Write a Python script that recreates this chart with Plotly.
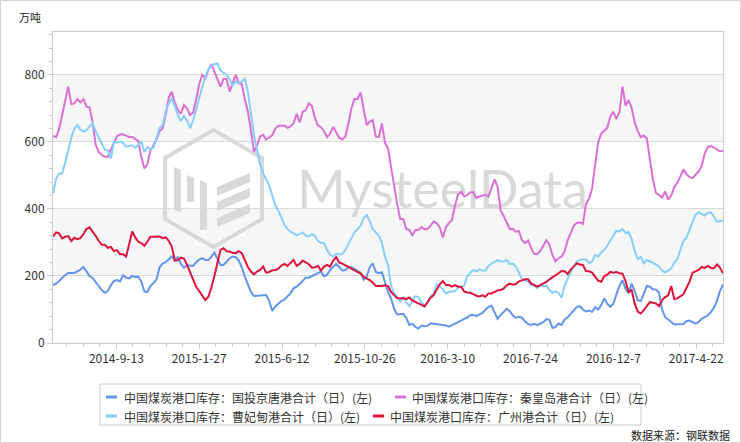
import pandas as pd
import plotly.graph_objects as go

# ---------------- data (5-day sampling) ----------------
dates = pd.date_range("2014-06-01", periods=221, freq="5D")

series_names = [
    "中国煤炭港口库存：国投京唐港合计（日）(左)",
    "中国煤炭港口库存：秦皇岛港合计（日）(左)",
    "中国煤炭港口库存：曹妃甸港合计（日）(左)",
    "中国煤炭港口库存：广州港合计（日）(左)",
]
series_colors = ["#6495ED", "#DA70D6", "#87CEFA", "#DC143C"]

jingtang = [
    173, 177, 185, 195, 203, 209, 209, 209, 214, 219, 227, 214, 200, 194, 182, 168, 158, 150, 155, 172,
    185, 188, 184, 202, 195, 193, 200, 197, 198, 183, 154, 152, 170, 179, 190, 226, 237, 241, 250, 258,
    248, 256, 236, 225, 232, 230, 230, 241, 249, 253, 248, 248, 257, 270, 250, 233, 233, 243, 253, 258,
    256, 246, 226, 198, 176, 152, 140, 141, 140, 143, 143, 125, 96, 109, 117, 125, 130, 140, 149, 163,
    168, 176, 185, 195, 195, 200, 205, 208, 213, 199, 204, 218, 227, 236, 227, 216, 218, 226, 226, 221,
    216, 210, 189, 198, 226, 238, 212, 208, 211, 180, 152, 133, 102, 85, 86, 87, 75, 54, 57, 48,
    43, 52, 50, 51, 59, 58, 55, 56, 53, 52, 49, 53, 58, 62, 67, 72, 76, 83, 84, 80,
    84, 90, 99, 108, 111, 90, 72, 84, 93, 102, 95, 82, 75, 78, 76, 64, 57, 54, 57, 53,
    58, 62, 71, 69, 45, 48, 58, 54, 70, 77, 87, 98, 108, 110, 100, 94, 97, 93, 107, 100,
    113, 133, 117, 108, 117, 145, 170, 187, 162, 149, 177, 155, 128, 125, 145, 170, 168, 160, 160, 150,
    100, 77, 70, 63, 55, 56, 56, 57, 65, 67, 62, 58, 63, 72, 77, 82, 92, 105, 125, 155,
    175]

qinhuangdao = [
    618, 614, 638, 685, 722, 765, 713, 715, 728, 718, 728, 705, 703, 660, 592, 570, 561, 556, 556, 577,
    600, 617, 622, 623, 619, 615, 615, 608, 603, 555, 521, 533, 575, 590, 608, 633, 640, 680, 732, 750,
    717, 695, 684, 710, 700, 680, 688, 725, 772, 800, 790, 814, 832, 810, 790, 765, 788, 788, 750, 778,
    800, 775, 772, 727, 690, 634, 570, 590, 616, 621, 607, 614, 620, 640, 648, 648, 649, 642, 646, 656,
    684, 658, 690, 695, 715, 708, 672, 649, 644, 632, 614, 625, 645, 628, 612, 607, 616, 655, 700, 728,
    728, 748, 700, 650, 660, 665, 616, 615, 655, 598, 580, 522, 460, 415, 370, 370, 340, 338, 320, 337,
    337, 346, 339, 341, 350, 363, 357, 345, 315, 345, 358, 367, 410, 443, 451, 438, 441, 450, 450, 433,
    437, 440, 442, 437, 460, 488, 465, 395, 378, 359, 340, 341, 332, 334, 307, 298, 306, 283, 266, 265,
    275, 290, 307, 293, 262, 244, 253, 258, 274, 307, 330, 350, 358, 360, 355, 415, 430, 460, 530, 598,
    625, 635, 642, 676, 690, 668, 690, 765, 708, 725, 702, 658, 632, 614, 619, 610, 550, 487, 447, 442,
    434, 452, 428, 440, 465, 478, 497, 518, 504, 495, 492, 503, 512, 528, 566, 585, 588, 583, 578, 572,
    573]

caofeidian = [
    445, 490, 506, 506, 538, 576, 612, 640, 650, 637, 631, 636, 645, 656, 632, 613, 595, 577, 575, 550,
    600, 598, 601, 597, 586, 587, 590, 582, 591, 600, 570, 585, 578, 583, 612, 642, 650, 690, 715, 730,
    707, 680, 662, 679, 664, 641, 664, 697, 732, 770, 796, 815, 827, 832, 834, 813, 805, 800, 787, 768,
    780, 775, 780, 788, 750, 676, 620, 575, 533, 506, 490, 470, 440, 410, 395, 373, 353, 340, 332, 327,
    322, 325, 330, 320, 318, 325, 320, 304, 299, 298, 277, 263, 258, 266, 264, 266, 277, 295, 315, 330,
    340, 350, 372, 382, 364, 340, 330, 320, 300, 258, 232, 172, 147, 138, 123, 136, 122, 110, 125, 140,
    137, 120, 111, 122, 139, 148, 176, 170, 160, 148, 152, 153, 155, 165, 167, 170, 199, 208, 218, 214,
    220, 216, 216, 230, 238, 242, 247, 243, 243, 248, 236, 237, 228, 210, 190, 185, 184, 173, 172, 164,
    173, 169, 172, 158, 150, 154, 150, 135, 172, 192, 212, 230, 243, 248, 249, 250, 238, 243, 262, 258,
    270, 277, 290, 305, 323, 335, 333, 340, 328, 332, 310, 275, 250, 257, 238, 247, 244, 240, 235, 228,
    216, 210, 216, 222, 240, 249, 278, 304, 315, 338, 363, 383, 390, 384, 380, 388, 390, 377, 362, 364,
    365]

guangzhou = [
    317, 330, 327, 312, 317, 319, 304, 314, 310, 313, 325, 340, 345, 333, 320, 305, 293, 293, 284, 287,
    274, 277, 265, 265, 258, 295, 333, 315, 302, 298, 290, 303, 317, 317, 317, 318, 313, 315, 305, 288,
    246, 247, 255, 252, 233, 210, 188, 168, 155, 141, 128, 138, 165, 200, 236, 278, 283, 274, 273, 269,
    268, 274, 268, 247, 227, 213, 205, 213, 218, 228, 210, 212, 217, 218, 222, 231, 236, 230, 238, 248,
    230, 236, 246, 240, 235, 225, 226, 230, 216, 228, 233, 228, 246, 256, 240, 237, 232, 225, 221, 216,
    212, 207, 198, 193, 188, 180, 170, 171, 170, 172, 170, 152, 142, 134, 133, 134, 131, 136, 127, 123,
    118, 114, 109, 122, 135, 143, 158, 175, 185, 173, 173, 168, 173, 168, 168, 154, 151, 150, 146, 141,
    139, 142, 138, 148, 148, 152, 157, 158, 163, 172, 177, 174, 176, 184, 188, 190, 190, 177, 173, 168,
    173, 177, 182, 190, 196, 200, 208, 215, 214, 206, 219, 228, 238, 234, 233, 215, 214, 210, 198, 186,
    183, 199, 204, 212, 210, 212, 208, 207, 185, 152, 158, 118, 94, 88, 98, 112, 122, 120, 118, 110,
    128, 137, 142, 170, 131, 133, 138, 145, 164, 183, 210, 215, 218, 227, 224, 230, 224, 223, 234, 225,
    208]

series_values = [jingtang, qinhuangdao, caofeidian, guangzhou]

x_tick_dates = ["2014-09-13", "2015-01-27", "2015-06-12", "2015-10-26",
                "2016-03-10", "2016-07-24", "2016-12-07", "2017-04-22"]
x_tick_text = ["2014-9-13", "2015-1-27", "2015-6-12", "2015-10-26",
               "2016-3-10", "2016-7-24", "2016-12-7", "2017-4-22"]
y_tick_vals = [0, 200, 400, 600, 800]

unit_text = "万吨"
source_text = "数据来源：钢联数据"
watermark_text = "MysteelData"

# ---------------- layout helpers ----------------
W, H = 741, 443
L, R, T, B = 53, 723, 32, 343
FONT = "Segoe UI, Noto Sans CJK SC, sans-serif"
AXIS_GRAY = "#cccccc"


def px(x):
    return (x - L) / (R - L)


def py(y):
    return (B - y) / (B - T)


def poly(pts):
    return "M " + " L ".join(f"{px(a)},{py(b)}" for a, b in pts) + " Z"


fig = go.Figure()
for name, vals, col in zip(series_names, series_values, series_colors):
    fig.add_trace(go.Scatter(x=dates, y=vals, mode="lines", name=name,
                             line=dict(color=col, width=2), showlegend=False))

shapes = []
# alternating bands
for y0, y1 in [(200, 400), (600, 800)]:
    shapes.append(dict(type="rect", xref="paper", yref="y", x0=0, x1=1, y0=y0, y1=y1,
                       fillcolor="#f7f7f7", line=dict(width=0), layer="below"))

# watermark (hexagon logo + text), beneath traces
wm = "#d9d9d9"
hexpts = [(213.5, 130), (262, 158), (262, 219), (213.5, 247), (165, 219), (165, 158)]
shapes.append(dict(type="path", xref="paper", yref="paper", path=poly(hexpts),
                   line=dict(color=wm, width=4), layer="between"))
for pts in [
    [(174, 167), (181, 170), (181, 212), (174, 210)],
    [(187, 175), (194, 178), (194, 202), (187, 202)],
    [(200, 180), (207, 183), (207, 230), (200, 230)],
]:
    shapes.append(dict(type="path", xref="paper", yref="paper", path=poly(pts),
                       fillcolor=wm, line=dict(width=0), layer="between"))
for off in [0, 15, 31]:
    pts = [(217, 187 + off), (250, 173 + off), (250, 182 + off), (217, 196 + off)]
    shapes.append(dict(type="path", xref="paper", yref="paper", path=poly(pts),
                       fillcolor=wm, line=dict(width=0), layer="between"))
shapes.append(dict(type="rect", xref="paper", yref="paper", x0=px(285), x1=px(600), y0=py(216), y1=py(158),
                   line=dict(width=0), fillcolor="rgba(0,0,0,0)", layer="between",
                   label=dict(text=watermark_text, textposition="middle center",
                              font=dict(family="Lato", size=52, color=wm))))

# outer frame of the picture
shapes.append(dict(type="rect", xref="paper", yref="paper", x0=px(0.5), x1=px(W - 0.5), y0=py(H - 0.5),
                   y1=py(0.5), line=dict(color="#d4d4d4", width=1), fillcolor="rgba(0,0,0,0)", layer="above"))

# custom legend
shapes.append(dict(type="rect", xref="paper", yref="paper", x0=px(100), x1=px(641), y0=py(425), y1=py(384),
                   line=dict(color=AXIS_GRAY, width=1), fillcolor="white", layer="above"))
legend_pos = [(106, 122, 397), (395, 410, 397), (106, 122, 416), (373, 388, 416)]
annotations = []
for (lx, tx, ly), name, col in zip(legend_pos, series_names, series_colors):
    shapes.append(dict(type="line", xref="paper", yref="paper", x0=px(lx), x1=px(lx + 11), y0=py(ly), y1=py(ly),
                       line=dict(color=col, width=3), layer="above"))
    annotations.append(dict(text=name, x=px(tx), y=py(ly), xref="paper", yref="paper", xanchor="left",
                            yanchor="middle", showarrow=False, font=dict(family=FONT, size=12, color="#333333")))

annotations.append(dict(text=unit_text, x=px(17), y=py(17), xref="paper", yref="paper", xanchor="left",
                        yanchor="middle", showarrow=False, font=dict(family=FONT, size=11, color="#222222")))
annotations.append(dict(text=source_text, x=px(732), y=py(435), xref="paper", yref="paper", xanchor="right",
                        yanchor="middle", showarrow=False, font=dict(family=FONT, size=11, color="#222222")))

# minor x ticks (every 1/5 of the major spacing)
start = pd.Timestamp(x_tick_dates[0])
step = pd.Timedelta(days=136 / 5)
minor_x = []
t = start - 3 * step
while t <= dates[-1]:
    if t >= dates[0]:
        minor_x.append(t)
    t += step

fig.update_layout(
    width=W, height=H, autosize=False,
    margin=dict(l=L, r=W - R, t=T, b=H - B),
    paper_bgcolor="white", plot_bgcolor="white",
    shapes=shapes, annotations=annotations,
    font=dict(family=FONT, size=12, color="#333333"),
    xaxis=dict(type="date", range=[dates[0], dates[-1]], tickmode="array", tickvals=x_tick_dates,
               ticktext=x_tick_text, ticks="outside", ticklen=5, tickcolor=AXIS_GRAY, showgrid=False,
               showline=True, linecolor=AXIS_GRAY, mirror=True, zeroline=False,
               tickfont=dict(size=12, color="#333333"),
               minor=dict(tickmode="array", tickvals=minor_x, ticks="outside", ticklen=3, tickcolor=AXIS_GRAY)),
    yaxis=dict(range=[0, 928], tickmode="array", tickvals=y_tick_vals, ticks="outside", ticklen=5,
               tickcolor=AXIS_GRAY, showgrid=True, gridcolor="#d9d9d9", showline=True, linecolor=AXIS_GRAY,
               mirror=True, zeroline=False, tickfont=dict(size=12, color="#333333"),
               minor=dict(dtick=40, tick0=0, ticks="outside", ticklen=3, tickcolor=AXIS_GRAY, showgrid=False)),
)

fig.write_html("out.html")
